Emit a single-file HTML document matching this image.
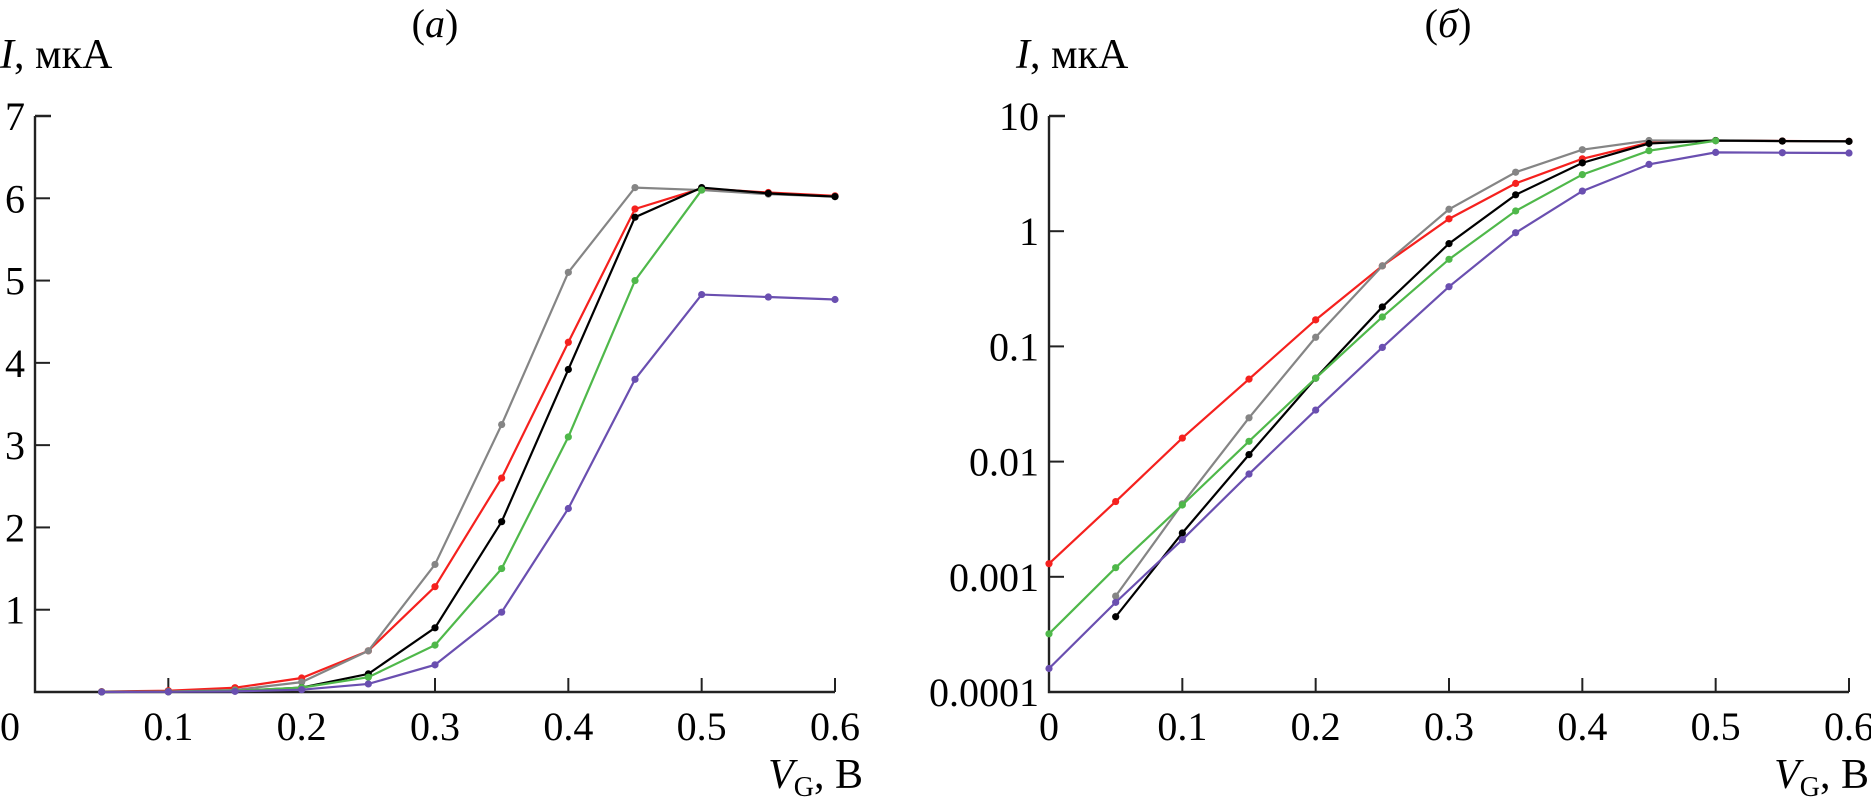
<!DOCTYPE html>
<html><head><meta charset="utf-8"><style>
html,body{margin:0;padding:0;background:#fff;}
svg{display:block;}
svg text{font-family:"Liberation Serif","Times New Roman",serif;}
</style></head><body>
<svg id="fig" width="1871" height="811" viewBox="0 0 1871 811" font-family="Liberation Serif, serif"></svg>
<script>
const xs = [0,0.05,0.1,0.15,0.2,0.25,0.3,0.35,0.4,0.45,0.5,0.55,0.6];
const redVals    = [0.0013,0.0045,0.016,0.052,0.17,0.5,1.28,2.6,4.25,5.87,6.12,6.07,6.03];
const grayVals   = [null,0.00068,0.0043,0.024,0.12,0.5,1.55,3.25,5.1,6.13,6.1,6.05,6.02];
const blackVals  = [null,0.00045,0.0024,0.0115,0.053,0.22,0.78,2.07,3.92,5.77,6.13,6.06,6.02];
const greenVals  = [0.00032,0.0012,0.0042,0.015,0.053,0.18,0.57,1.5,3.1,5.0,6.1,null,null];
const purpleVals = [0.00016,0.0006,0.0021,0.0078,0.028,0.098,0.33,0.97,2.23,3.8,4.83,4.8,4.77];
const seriesNames = ["red","gray","black","green","purple"];
const seriesColors = ["#f5211e","#858585","#000000","#4fb84a","#6a4fb0"];
const seriesVals = [redVals,grayVals,blackVals,greenVals,purpleVals];
const xTicks = [0,0.1,0.2,0.3,0.4,0.5,0.6];
const xTickLabels = ["0","0.1","0.2","0.3","0.4","0.5","0.6"];
const linTicks = [1,2,3,4,5,6,7];
const logTicks = [0.0001,0.001,0.01,0.1,1,10];
const logTickLabels = ["0.0001","0.001","0.01","0.1","1","10"];

const NS="http://www.w3.org/2000/svg";
const FF="Liberation Serif, serif";
const svg=document.getElementById('fig');
function el(tag,attrs,parent){const e=document.createElementNS(NS,tag);for(const k in attrs)e.setAttribute(k,attrs[k]);(parent||svg).appendChild(e);return e;}
function txt(s,x,y,size,anchor,parent){const t=el('text',{x:x,y:y,'font-size':size,'text-anchor':anchor||'start','font-family':FF},parent);t.textContent=s;return t;}

function chart(id,x0,isLog){
  const g=el('g',{});
  
  
  const yBot=692, yTop=116;
  const X=v=>x0+v/0.6*800;
  const Y=isLog? v=>yBot-(Math.log10(v)+4)/5*(yBot-yTop) : v=>yBot-v/7*(yBot-yTop);
  const ax=el('path',{d:`M${x0} ${yTop} H${x0+16} M${x0} ${yTop} V${yBot} H${X(0.6)}`,stroke:'#222','stroke-width':2.4,fill:'none'},g);
  
  
  xTicks.forEach((v,i)=>{
    if(i>0) el('line',{x1:X(v),x2:X(v),y1:yBot,y2:yBot-14,stroke:'#222','stroke-width':2},g);
    const lx=(!isLog&&i===0)?10:X(v);
    const t=txt(xTickLabels[i],lx,740,40,'middle',g);
    
    
  });
  const yt=isLog?logTicks:linTicks;
  yt.forEach((v,i)=>{
    el('line',{x1:x0,x2:x0+15,y1:Y(v),y2:Y(v),stroke:'#222','stroke-width':2},g);
    const t=txt(isLog?logTickLabels[i]:String(v),x0-10,Y(v)+14,40,'end',g);
    
    
  });
  seriesVals.forEach((vals,si)=>{
    const pts=[];
    vals.forEach((v,i)=>{ if(v==null) return; if(!isLog&&xs[i]===0) return; pts.push([X(xs[i]),Y(v)]); });
    const p=el('polyline',{points:pts.map(p=>p.join(',')).join(' '),fill:'none',stroke:seriesColors[si],'stroke-width':2.2},g);
    
    
    pts.forEach(q=>{
      const c=el('circle',{cx:q[0],cy:q[1],r:3.6,fill:seriesColors[si]},g);
      
      
    });
  });
}
chart('chart-a-linear',35,false);
chart('chart-b-log',1049,true);

let t;
t=el('text',{x:435,y:37,'font-size':40,'text-anchor':'middle','font-family':FF});t.innerHTML='(<tspan font-style="italic">a</tspan>)';

t=el('text',{x:1448,y:37,'font-size':40,'text-anchor':'middle','font-family':FF});t.innerHTML='(<tspan font-style="italic">б</tspan>)';

t=el('text',{x:0,y:68,'font-size':42,'font-family':FF});t.innerHTML='<tspan font-style="italic">I</tspan>, мкА';

t=el('text',{x:1016,y:68,'font-size':42,'font-family':FF});t.innerHTML='<tspan font-style="italic">I</tspan>, мкА';

t=el('text',{x:863,y:788,'font-size':42,'text-anchor':'end','font-family':FF});t.innerHTML='<tspan font-style="italic">V</tspan><tspan font-size="28" dy="8">G</tspan><tspan dy="-8">, В</tspan>';

t=el('text',{x:1869,y:788,'font-size':42,'text-anchor':'end','font-family':FF});t.innerHTML='<tspan font-style="italic">V</tspan><tspan font-size="28" dy="8">G</tspan><tspan dy="-8">, В</tspan>';

</script>
</body></html>
